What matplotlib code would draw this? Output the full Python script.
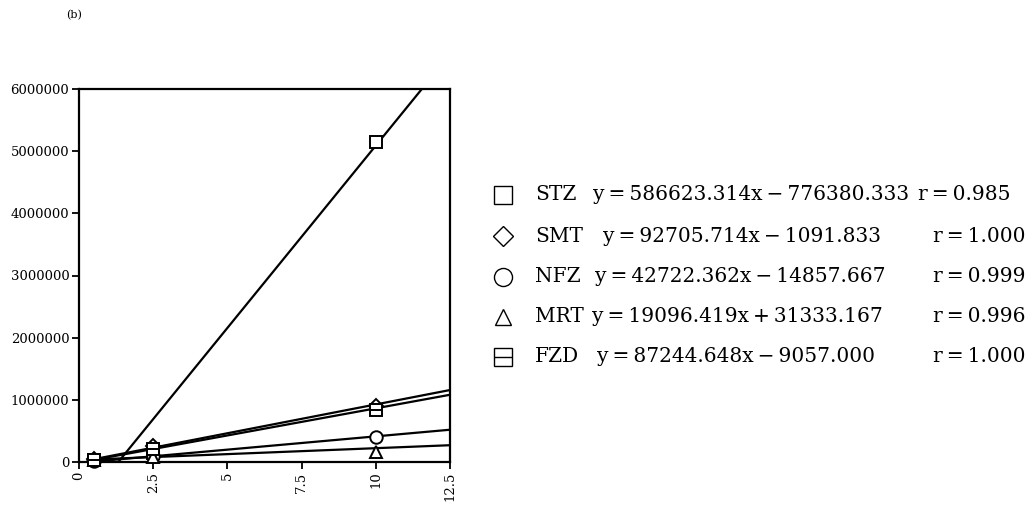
import numpy as np
import matplotlib
matplotlib.use("Agg")
import matplotlib.pyplot as plt

# --- data ---
conc = [0.5, 2.5, 10]
names = ['STZ', 'SMT', 'NFZ', 'MRT', 'FZD']
slopes = [586623.314, 92705.714, 42722.362, 19096.419, 87244.648]
inters = [-776380.333, -1091.833, -14857.667, 31333.167, -9057.000]
r_vals = ['0.985', '1.000', '0.999', '0.996', '1.000']
points = {
    'STZ': [40000, 145000, 5150000],
    'SMT': [45000, 250000, 900000],
    'NFZ': [15000, 100000, 400000],
    'MRT': [40000, 85000, 160000],
    'FZD': [35000, 215000, 840000],
}
markers = ['s', 'D', 'o', '^', 's']
xticks = [0, 2.5, 5, 7.5, 10, 12.5]
xtick_labels = ['0', '2.5', '5', '7.5', '10', '12.5']
yticks = [0, 1000000, 2000000, 3000000, 4000000, 5000000, 6000000]

W, H = 1034, 508
fig = plt.figure(figsize=(W / 100, H / 100), dpi=100)
ax = fig.add_axes([79 / W, 1 - 462 / H, (450 - 79) / W, (462 - 89) / H])

serif = ['DejaVu Serif']
xs = np.linspace(0.3, 12.5, 60)
for i, n in enumerate(names):
    ax.plot(xs, slopes[i] * xs + inters[i], color='black', lw=1.6, zorder=2)
for i, n in enumerate(names):
    ms = 9 if markers[i] != 'D' else 7
    ax.plot(conc, points[n], ls='none', marker=markers[i], ms=ms, mfc='white',
            mec='black', mew=1.4, clip_on=False, zorder=3)
    if n == 'FZD':
        ax.plot(conc, points[n], ls='none', marker='_', ms=ms, mec='black',
                mew=1.4, clip_on=False, zorder=4)

ax.set_xlim(0, 12.5)
ax.set_ylim(0, 6000000)
ax.set_xticks(xticks)
ax.set_xticklabels(xtick_labels, rotation=90, family=serif, fontsize=9.5)
ax.set_yticks(yticks)
ax.set_yticklabels([str(v) for v in yticks], family=serif, fontsize=9.5)
ax.tick_params(direction='out', length=5, width=1.3, pad=2)
for s in ax.spines.values():
    s.set_linewidth(1.6)

# equation legend on the right
row_y = [195, 236, 277, 317, 357]
name_x = 535
eq_x = [593, 603, 595, 592, 597]
r_x = [918, 933, 933, 933, 933]
mk_x = 503
ts = '\u2009'
for i, n in enumerate(names):
    fy = 1 - row_y[i] / H
    ms = {'s': 13, 'D': 10, 'o': 13, '^': 11}[markers[i]]
    fig.lines.append(plt.Line2D([mk_x / W], [fy], transform=fig.transFigure, ls='none',
                                marker=markers[i], ms=ms, mfc='white', mec='black', mew=1.0))
    if n == 'FZD':
        fig.lines.append(plt.Line2D([mk_x / W], [fy], transform=fig.transFigure, ls='none',
                                    marker='_', ms=ms, mec='black', mew=1.0))
    fig.text(name_x / W, fy, n, family=serif, fontsize=14.5, va='center', ha='left')
    sign = '+' if inters[i] > 0 else '\u2212'
    eq = f'y{ts}={ts}{slopes[i]:.3f}x{ts}{sign}{ts}{abs(inters[i]):.3f}'
    fig.text(eq_x[i] / W, fy, eq, family=serif, fontsize=14.5, va='center', ha='left')
    fig.text(r_x[i] / W, fy, f'r{ts}={ts}{r_vals[i]}', family=serif, fontsize=14.5,
             va='center', ha='left')

fig.text(74 / W, 1 - 15 / H, '(b)', family=serif, fontsize=8, va='center', ha='center')

fig.savefig('out.png', dpi=100)
